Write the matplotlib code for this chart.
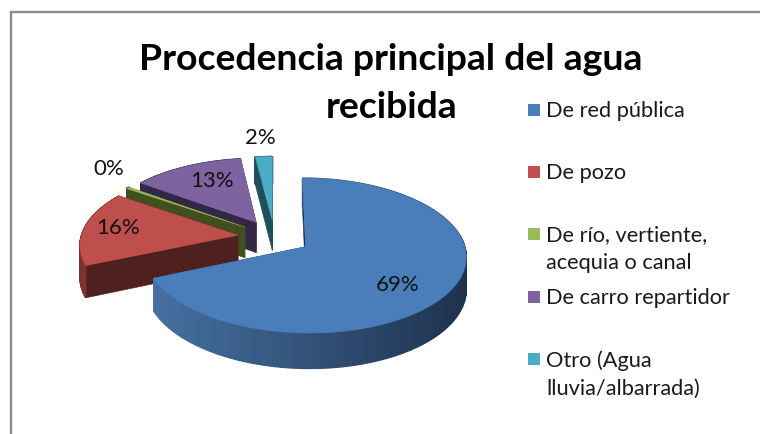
import numpy as np
import matplotlib
matplotlib.use('Agg')
import matplotlib.pyplot as plt
from matplotlib.colors import to_rgb
from matplotlib.patches import Rectangle

categories = ['De red pública', 'De pozo', 'De río, vertiente,\nacequia o canal',
              'De carro repartidor', 'Otro (Agua\nlluvia/albarrada)']
values = [68.6, 16.0, 0.4, 13.0, 2.0]
title_lines = ['Procedencia principal del agua', 'recibida']

top_colors = ['#4a7ebb', '#be4f4c', '#9bbb59', '#7f63a1', '#4aacc5']
side_colors = ['#1f3350', '#4f211e', '#414f1f', '#332745', '#1d4f5c']
wall_colors = [('#1f3350', '#4a78aa'), ('#4f211e', '#7a332f'), ('#414f1f', '#414f1f'),
               ('#332745', '#332745'), ('#1d4f5c', '#1d4f5c')]

# label positions in picture pixels
label_pos = [(398, 285), (118, 228), (109, 169), (212, 181), (260, 138)]
legend_y = [110, 172, 234, 297, 359]
title_y = [59, 108]
title_x = [391, 392]

# pie projection, fitted by eye
cx, cy = 274.5, 237.0
rx, ry = 157.0, 74.3
persp = 0.112
explode = 0.234
depth = 31.0


def project(X, Y, drop=0.0):
    f = 1 / (1 + persp * Y)
    return cx + rx * X * f, cy - ry * Y * f + drop * f


def mix(c1, c2, t):
    a, b = np.array(to_rgb(c1)), np.array(to_rgb(c2))
    return tuple(a + (b - a) * t)


def draw_slice(ax, start, stop, top, side, wall, z):
    mid = (start + stop) / 2
    ox, oy = explode * np.sin(mid), explode * np.cos(mid)
    theta = np.linspace(start, stop, 160)
    X, Y = ox + np.sin(theta), oy + np.cos(theta)
    ax_, ay_ = project(ox, oy)
    adx, ady = project(ox, oy, depth)
    x0, y0 = project(X, Y)
    x1, y1 = project(X, Y, depth)

    # cut faces
    for k in (0, -1):
        ax.fill([ax_, x0[k], x1[k], adx], [ay_, y0[k], y1[k], ady],
                color=side, lw=0.4, zorder=z)

    # outer wall, shaded from right to left
    for i in range(len(theta) - 1):
        t = np.clip((cx + rx * 1.2 - x0[i]) / (rx * 2.2), 0, 1)
        ax.fill([x0[i], x0[i + 1], x1[i + 1], x1[i]],
                [y0[i], y0[i + 1], y1[i + 1], y1[i]],
                color=mix(wall[0], wall[1], t), lw=0.9, zorder=z + 0.1)

    # top face
    ax.fill(np.r_[ax_, x0], np.r_[ay_, y0], color=top, lw=0.3, zorder=z + 0.2)


fig = plt.figure(figsize=(7.6, 4.34), dpi=100)
ax = fig.add_axes([0, 0, 1, 1])
ax.set_xlim(0, 760)
ax.set_ylim(434, 0)
ax.axis('off')
plt.rcParams['font.family'] = ['Lato', 'DejaVu Sans']

# chart frame
ax.plot([11, 11, 760], [434, 12, 12], color='#8c8c8c', lw=1.7, solid_joinstyle='miter')

# slices run clockwise from twelve o'clock, back ones are drawn first
edges = np.r_[0, np.cumsum(values)] / np.sum(values) * 2 * np.pi
for z, i in enumerate([4, 3, 2, 1, 0]):
    draw_slice(ax, edges[i], edges[i + 1], top_colors[i], side_colors[i], wall_colors[i], z + 2)

for val, pos in zip(values, label_pos):
    ax.text(pos[0], pos[1], f'{val:.0f}%', fontsize=16, color='#111111',
            ha='center', va='center', zorder=20)

for line, x, y in zip(title_lines, title_x, title_y):
    ax.text(x, y, line, fontsize=26.9, fontweight='bold', color='black',
            ha='center', va='center', zorder=20)

for name, y, col in zip(categories, legend_y, top_colors):
    ax.add_patch(Rectangle((528, y - 6), 12, 12, facecolor=col, edgecolor='none', zorder=20))
    ax.text(546, y - 9, name, fontsize=15.7, color='#1a1a1a', ha='left', va='top',
            linespacing=1.52, zorder=20)

fig.savefig('out.png', dpi=100)
